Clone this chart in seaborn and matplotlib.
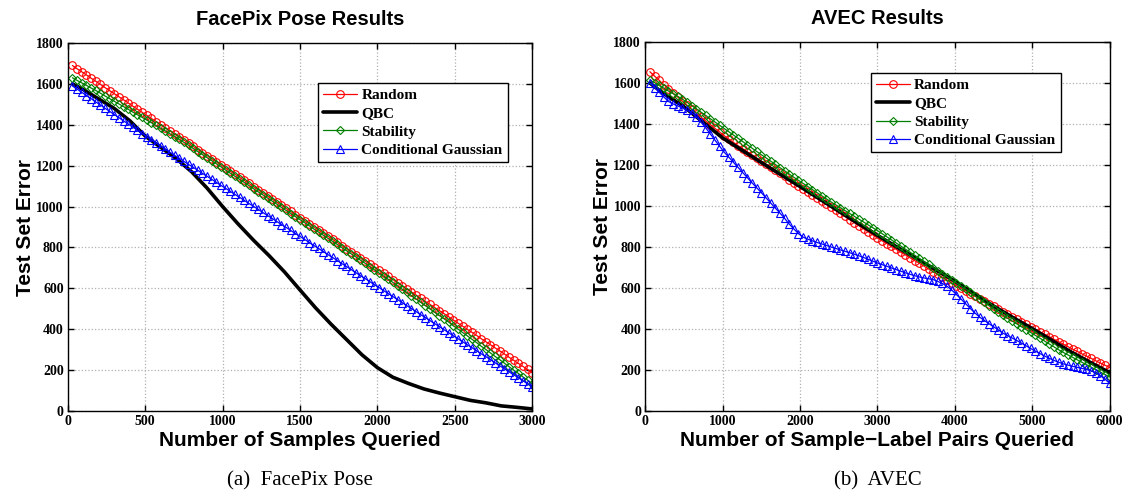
import numpy as np
import pandas as pd
import matplotlib
matplotlib.use("Agg")
import matplotlib.pyplot as plt
import seaborn as sns

# ---- FacePix Pose (left panel) ----
x_face = np.arange(30, 3001, 30)
face_random = [1690,1674,1659,1644,1628,1613,1598,1582,1567,1552,
               1537,1522,1507,1491,1476,1461,1446,1431,1416,1400,
               1385,1370,1355,1340,1325,1310,1294,1279,1264,1249,
               1234,1219,1204,1188,1173,1158,1143,1128,1113,1097,
               1082,1067,1052,1037,1022,1006,991,976,961,946,
               931,916,900,885,870,855,840,825,809,794,
               779,764,749,734,718,703,688,673,658,643,
               627,612,597,582,567,552,536,521,506,491,
               476,461,445,430,415,400,385,370,354,339,
               324,309,294,279,263,248,233,218,203,188]
face_stability = [1630,1617,1605,1593,1580,1568,1555,1541,1528,1515,
                  1502,1489,1476,1462,1449,1436,1423,1410,1397,1383,
                  1370,1356,1342,1328,1314,1300,1284,1269,1254,1239,
                  1224,1209,1194,1178,1163,1148,1133,1118,1103,1087,
                  1072,1057,1042,1027,1012,996,981,966,951,936,
                  921,906,890,875,860,845,830,815,799,784,
                  769,754,738,723,706,691,675,660,644,629,
                  612,596,580,564,548,532,515,499,483,467,
                  451,435,417,401,384,368,351,335,317,301,
                  284,267,251,234,217,200,184,167,151,133]
face_condgauss = [1590,1574,1559,1543,1528,1512,1497,1481,1466,1450,
                  1435,1419,1404,1388,1373,1357,1342,1326,1311,1295,
                  1280,1265,1250,1236,1221,1206,1192,1177,1162,1148,
                  1133,1118,1103,1089,1074,1059,1045,1030,1015,1001,
                  986,971,956,942,927,912,898,883,868,854,
                  839,824,809,795,780,765,751,736,721,707,
                  692,677,662,648,633,618,604,589,574,560,
                  545,530,515,501,486,471,457,442,427,413,
                  398,383,368,354,339,324,310,295,280,266,
                  251,236,221,207,192,177,163,148,133,119]
x_face_qbc = [30,100,200,300,400,500,600,700,800,900,1000,1100,1200,1300,1400,1500,
              1600,1700,1800,1900,2000,2100,2200,2300,2400,2500,2600,2700,2800,2900,3000]
face_qbc = [1600,1572,1526,1480,1420,1345,1290,1235,1170,1090,1000,915,835,760,680,592,
            505,425,350,275,212,165,135,108,88,70,52,40,25,18,10]

# ---- AVEC (right panel) ----
x_avec = np.arange(60, 6001, 60)
avec_random = [1655,1634,1613,1592,1571,1551,1531,1511,1492,1472,
               1453,1434,1415,1397,1379,1361,1343,1326,1310,1294,
               1279,1264,1249,1234,1219,1204,1189,1174,1159,1144,
               1129,1114,1099,1084,1069,1054,1039,1024,1009,994,
               979,964,949,934,919,904,889,874,859,844,
               830,817,803,789,775,762,748,734,721,707,
               693,680,666,652,639,625,612,599,586,573,
               560,547,535,522,510,497,485,472,460,447,
               435,422,410,398,386,374,362,350,338,326,
               314,302,291,279,268,257,245,234,223,212]
avec_stability = [1615,1602,1588,1575,1561,1548,1535,1521,1506,1490,
                  1474,1458,1442,1426,1410,1394,1378,1362,1346,1330,
                  1314,1298,1282,1266,1250,1235,1219,1203,1187,1172,
                  1156,1140,1125,1110,1095,1080,1065,1050,1035,1020,
                  1006,992,978,964,950,936,922,908,894,880,
                  865,850,835,820,805,790,775,760,745,730,
                  715,700,685,670,655,640,625,610,595,580,
                  562,546,530,514,498,483,468,453,439,425,
                  411,397,383,369,355,341,327,313,299,286,
                  274,262,250,238,226,214,202,190,178,166]
avec_condgauss = [1600,1578,1555,1532,1510,1498,1488,1478,1467,1455,
                  1435,1410,1382,1352,1322,1292,1263,1238,1213,1188,
                  1163,1138,1113,1089,1065,1040,1015,990,966,940,
                  912,888,865,848,838,830,822,815,808,800,
                  793,786,779,772,765,757,749,740,731,722,
                  714,706,698,690,682,674,667,660,654,649,
                  645,641,632,622,608,590,568,546,523,500,
                  478,458,442,426,411,396,380,368,356,344,
                  331,318,305,292,280,268,257,247,238,230,
                  224,218,213,208,203,196,186,172,155,135]
x_avec_qbc = [60,250,500,750,1000,1250,1500,1750,2000,2250,2500,2750,3000,
              3250,3500,3750,4000,4250,4500,4750,5000,5250,5500,5750,6000]
avec_qbc = [1600,1545,1484,1408,1332,1272,1212,1153,1095,1035,975,915,857,
            800,745,690,633,572,512,456,402,345,288,237,187]

labels = ["Random", "QBC", "Stability", "Conditional Gaussian"]

sns.set_style("ticks")
plt.rcParams["text.color"] = "black"
plt.rcParams["axes.labelcolor"] = "black"
plt.rcParams["xtick.color"] = "black"
plt.rcParams["ytick.color"] = "black"
serif = ["Liberation Serif", "DejaVu Serif"]
sans = ["Liberation Sans", "DejaVu Sans"]

fig = plt.figure(figsize=(11.3, 5.0), dpi=100)
ax1 = fig.add_axes([0.060, 0.178, 0.411, 0.736])
ax2 = fig.add_axes([0.571, 0.178, 0.411, 0.738])


def draw_panel(ax, x, rnd, xq, qbc, stab, cg):
    mk = dict(markersize=5.5, markerfacecolor="none", markeredgewidth=0.8, linewidth=0.9)
    sns.lineplot(x=x, y=rnd, ax=ax, color="red", marker="o", markeredgecolor="red",
                 label=labels[0], **mk)
    sns.lineplot(x=xq, y=qbc, ax=ax, color="black", linewidth=2.6, label=labels[1])
    sns.lineplot(x=x, y=stab, ax=ax, color="green", marker="D", markeredgecolor="green",
                 label=labels[2], **dict(mk, markersize=4.5))
    sns.lineplot(x=x, y=cg, ax=ax, color="blue", marker="^", markeredgecolor="blue",
                 label=labels[3], **mk)


draw_panel(ax1, x_face, face_random, x_face_qbc, face_qbc, face_stability, face_condgauss)
draw_panel(ax2, x_avec, avec_random, x_avec_qbc, avec_qbc, avec_stability, avec_condgauss)

ax1.set_xlim(0, 3000)
ax1.set_xticks(range(0, 3001, 500))
ax2.set_xlim(0, 6000)
ax2.set_xticks(range(0, 6001, 1000))

titles = ["FacePix Pose Results", "AVEC Results"]
xlabels = ["Number of Samples Queried", "Number of Sample\u2212Label Pairs Queried"]
captions = ["(a)  FacePix Pose", "(b)  AVEC"]
legend_anchor = [(0.522, 0.912), (0.469, 0.936)]

for ax, t, xl, cap, anc in zip([ax1, ax2], titles, xlabels, captions, legend_anchor):
    ax.set_ylim(0, 1800)
    ax.set_yticks(range(0, 1801, 200))
    ax.grid(True, linestyle=":", color="#b0b0b0", linewidth=0.9)
    ax.tick_params(direction="in", length=4, width=1, top=True, right=True, pad=3)
    for lab in ax.get_xticklabels() + ax.get_yticklabels():
        lab.set_fontfamily(serif)
        lab.set_fontweight("bold")
        lab.set_fontsize(10)
    for s in ax.spines.values():
        s.set_linewidth(1.0)
        s.set_color("black")
    ax.set_title(t, fontfamily=sans, fontweight="bold", fontsize=14.5, pad=13)
    ax.set_xlabel(xl, fontfamily=sans, fontweight="bold", fontsize=15, labelpad=2)
    ax.set_ylabel("Test Set Error", fontfamily=sans, fontweight="bold", fontsize=15, labelpad=1)
    leg = ax.legend(loc="upper left", bbox_to_anchor=anc, frameon=True, fancybox=False,
                    edgecolor="black", framealpha=1, borderpad=0.35, labelspacing=0.3,
                    handlelength=2.2, handletextpad=0.3,
                    prop=dict(family=serif, weight="bold", size=11))
    leg.get_frame().set_linewidth(1.0)
    ax.text(0.5, -0.19, cap, transform=ax.transAxes, ha="center", va="center",
            fontfamily=serif, fontsize=15)

fig.savefig("out.png", dpi=100)
